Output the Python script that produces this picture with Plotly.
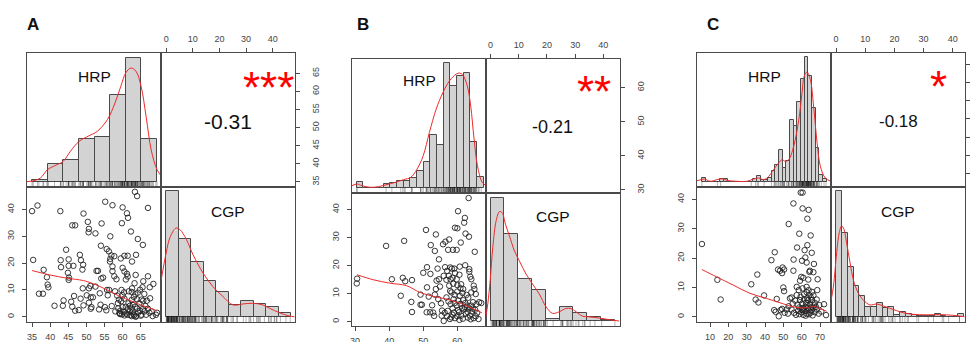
import plotly.graph_objects as go

W, H = 977, 342

# ---------------- data ----------------
A_points = [(35,39.4),(36.5,41.5),(35.3,21.2),(42.8,39.4),(49.2,38.5),(46.1,34.1),(46.9,34.1),(50.4,35.4),(50.7,32.8),(50.6,31.5),
    (52.5,31.1),(55.2,42.9),(57.2,41.6),(60,40.8),(61.2,38.6),(61.5,36.9),(59.8,34.9),(62.3,31.8),(63.4,46.6),(64,45),
    (67,40.6),(64.2,29),(65.6,26.8),(54,26.5),(56.6,30),(54.2,34.8),(44.4,25),(42.9,21.1),(45.1,21.4),(43,18.5),
    (45.1,19),(46.4,19),(48.2,23.1),(48.5,21.1),(49.1,19.4),(48.9,17.6),(44.9,16.4),(45.2,14.6),(45.1,13.75),(38.2,17.5),
    (39.1,14.75),(39.3,12),(39.5,11),(36.9,8.6),(38,8.6),(41.2,4.1),(43.5,4.1),(43.7,6.1),(45.8,5.6),(46.6,7.75),
    (46.9,2.25),(48.4,6.75),(49,10.6),(49.2,4.25),(50.1,8),(50.7,10.6),(51.1,11.5),(51.2,7.25),(50.7,5.25),(51.8,7.25),
    (52.5,11.25),(52.8,17.1),(53.2,17.1),(51.2,3),(53.7,8.75),(53.9,4.5),(53.5,2.75),(55.1,3.6),(55.5,2.4),(54.1,14.25),
    (54.6,14.6),(55.6,25.25),(56.2,24.4),(56.6,21.6),(56.9,22.9),(56.5,20.6),(57.7,22.6),(57.2,18.75),(57.2,17),(57.7,15.1),
    (58.3,14),(55.7,10),(55.9,8),(56.3,10),(57.9,9.5),(59.5,21.75),(60,18.25),(60.5,22.75),(61.4,22.75),(60.5,16.9),
    (61.2,16),(60.9,13.9),(61.4,15),(62.6,20.6),(63.6,15.6),(63.7,23.1),(63.3,12.5),(62.6,10.6),(62.5,9.25),(61.7,9.5),
    (60.4,9.1),(59.7,10),(58.5,7.9),(59,6.4),(60,8),(60.5,6.75),(58.7,5.1),(58.8,3.1),(59.4,2.25),(60,3.6),
    (59.1,1.4),(59.3,1),(59.8,0.9),(60.3,1.75),(60.9,3.75),(61.6,5),(62.5,6.25),(63.1,7.4),(63.5,8.4),(64.2,9),
    (64.8,10.1),(65.5,11),(65.7,13.25),(67,15.1),(67.5,11),(68.5,12.25),(62.8,1.9),(63.2,0.6),(63.7,0.25),(64.3,1.5),
    (64.8,2.25),(65.6,2.9),(66.3,4),(66.7,6),(67.6,6.9),(65.2,0.75),(66.5,0.75),(67.4,1.5),(68.3,0.25),(69.2,0.75),
    (69.5,1.5),(62,4.1),(62.5,3.1),(63.5,3.75),(64.6,5),(65.7,6),(65.2,6.4),(61.3,0.75),(62.1,0.6),(62.5,0.25),
    (63.6,0),(47.9,2.5),(46.1,3.75),(51.4,3.6),(60.5,0.5),(61,1.2),(62,2),(63,1),(64,3),(65,0.4),
    (66,2),(67,3),(68,2),(61.5,2.8),(62.8,4.5),(64,6.5),(66,8.5),(58,2),(57,4),(59.6,5.8)]

B_points = [(30.6,15.3),(30.5,13.6),(39.1,27),(40.8,15.1),(43.4,9.2),(44.4,28.8),(44,15.6),(44.7,14.4),(46.5,7),(46.7,3.4),
    (46.7,14.8),(49.2,6),(49.6,6),(49.2,9.6),(50,17.4),(50.8,32.7),(51.1,19.4),(52.1,17),(52.2,27.3),(53.4,25.2),
    (53.7,31.1),(54.6,22.2),(51.1,12.2),(51.6,8.9),(51,3.3),(52,3.3),(52.6,5.8),(52.9,3.2),(53.2,2),(53.4,9.6),
    (53.7,11.6),(53.9,14.6),(54.2,18.9),(54.6,15.1),(54.9,12.5),(54.4,8),(55.2,6.5),(55.5,3.9),(55.4,2.1),(56,0.2),
    (55.8,27.6),(56.5,28.5),(57.3,25.6),(57.6,29.3),(56.4,19.4),(57,18.1),(57.9,19.3),(58.4,18.9),(59.1,18.9),(56,16.3),
    (56.8,14.9),(57.5,16.3),(58,15.1),(58.7,25.6),(59.8,25.6),(59.3,33.5),(60,33.3),(60.2,39.4),(61,28.2),(62,35.3),
    (62.2,37),(63.3,44.1),(62.4,31.4),(63.4,30.3),(65.1,24.9),(63.5,18.7),(63.8,16),(65,11.6),(57.6,12.8),(58.8,13.5),
    (59.8,15.1),(60.6,16.7),(61.1,13.3),(61.7,11.6),(58.3,10.4),(59.2,9.5),(60,10.7),(60.7,9.2),(61.5,10.2),(62.7,9.5),
    (63.2,8.5),(56.8,8.6),(57.4,7.2),(58,6.2),(58.6,4.7),(59.2,6.6),(59.8,5.7),(60.3,7.5),(60.9,6.3),(61.7,7.6),
    (62.3,6.6),(62.9,5.7),(63.5,4.7),(64,5.7),(64.6,6.9),(65.6,6.2),(66.4,6.9),(67,6.6),(56.3,3.1),(57,1.9),
    (57.8,0.9),(58.6,2.4),(59.3,1.2),(60,1.9),(60.5,3.3),(61.1,2.1),(62,4.3),(62.5,2.8),(63.1,1.4),(63.7,2.1),
    (64.2,3.6),(64.8,1.2),(65.4,1.9),(65.8,3.1),(66.2,0.9),(60,13),(58.6,15.6),(59.3,17.3),(60.7,19.6),(62.3,20.1),
    (63.5,17.8),(64.1,15.1),(64.8,12.8),(64.1,10.4),(65.4,9.8),(57.2,3.8),(58.2,1.5),(59,3.2),(60.6,0.6),(61.6,1),
    (62.2,5.2),(63,3.4),(63.9,0.8),(64.5,4.6),(65.2,4.2),(61.4,4.8),(60.2,4.1),(58.9,8),(57.9,10.9),(60.9,11.9)]

C_points = [(5.6,24.8),(14,12.6),(15.8,5.9),(32.5,11.1),(34.9,5.9),(35.8,14.4),(36.4,4.9),(39.5,7.3),(43.5,19.3),(45.3,22),
    (46.4,6.1),(45,2.3),(45.8,1.7),(47.1,16.1),(48.2,15.7),(49.3,14.9),(49.6,16.8),(50.4,16.1),(50,10),(50.4,8.75),
    (48.5,2.3),(47.5,0.2),(49.3,2.7),(50.7,1.4),(52.9,31.6),(54.5,6.6),(55.5,15.7),(55.6,19.5),(55.5,38.6),(57.5,23.6),
    (58.7,28.3),(59.5,42.3),(60.5,42.3),(60.5,36.9),(60.2,19.1),(60.9,13.3),(59.8,13.6),(59.1,12.3),(61.6,22.7),(62,20.2),
    (62.7,18.5),(63.1,24.4),(63.1,33.4),(63.8,36.4),(63.6,12.7),(64.2,15.3),(64.5,15.7),(64.9,27.7),(65.5,21.8),(66.4,15.2),
    (66.7,18),(68.7,12.8),(68.5,9.1),(57.3,10.2),(58.4,9.1),(60.5,9.7),(62.7,10.2),(63.8,9.1),(65.6,8.5),(66.4,7.3),
    (53.6,6.3),(55.1,4.5),(56.5,5.5),(57.8,4.2),(59.1,5.7),(60.2,4.5),(61.3,5.9),(62.4,4.8),(63.5,5.7),(64.5,4.3),
    (65.6,5.7),(67.1,4.8),(68.2,5.9),(69.6,4),(54.5,2.5),(55.8,1.4),(56.9,0.7),(58,2),(58.7,0.9),(59.8,1.6),
    (60.9,0.7),(61.6,2),(62.7,1.1),(63.8,2.3),(64.9,1.4),(66,0.5),(67.1,1.6),(68.2,2.5),(69.3,1.1),(70.7,1.8),
    (72.2,4.3),(73.3,0.6),(58.7,3.2),(60.5,3),(62,3.4),(63.5,3),(64.9,3.2),(66.4,3),(67.8,3.4),(61.3,7.7),
    (62.7,8.4),(64.2,7.4),(51.8,2.5),(52.9,3.6),(52.5,1.1),(57.3,7.4),(61,2.6),(62.2,0.4),(63.2,4),(64,0.9),
    (65.2,2.2),(66.8,3.9),(59.4,6.8),(60.2,2.4),(63,6.4),(65,6.6)]

# histogram bins: (first edge, bin width, bar heights)
A_hrp_start, A_hrp_width = 35.0, 4.31
A_hrp_heights = [0.9, 7.5, 9.2, 18.3, 19.2, 37.1, 53.0, 18.3]
A_cgp_start, A_cgp_width = 0.0, 4.69
A_cgp_heights = [53.1, 33.1, 23.3, 15.3, 10.5, 5.1, 6.7, 5.5, 4.3, 1.6]

B_hrp_start, B_hrp_width = 30.5, 1.96
B_hrp_heights = [2.7, 0, 0, 0, 1.6, 2.0, 3.0, 3.0, 4.1, 7.1, 11.2, 22.6, 18.3, 53.1, 43.5, 47.7, 49.0, 19.7, 4.5]
B_cgp_start, B_cgp_width = 0.0, 4.9
B_cgp_heights = [52.7, 37.4, 18.0, 13.5, 0.9, 6.1, 3.6, 1.6, 0.4]

C_hrp_start, C_hrp_width = 5.6, 2.0
C_hrp_heights = [1.7, 0, 0, 0, 0, 1.4, 1.4, 0, 0, 0, 0, 0, 0, 0, 1.4, 2.4, 1.0, 0.7, 1.7, 4.5,
                 7.4, 13.8, 6.0, 8.8, 26.6, 23.7, 33.9, 43.9, 53.3, 45.0, 31.5, 14.5, 2.8, 1.4]
C_cgp_start, C_cgp_width = 0.0, 1.99
C_cgp_heights = [53.1, 35.7, 21.0, 13.2, 8.7, 4.4, 4.4, 5.8, 3.7, 4.1, 0.9, 2.1, 1.3, 0.7, 0.4, 0.4,
                 0.4, 1.3, 0.4, 0.1, 0.1, 1.4]

# density curves (x, y)
A_hrp_dens_x = [33.6, 35.0, 37.3, 39.3, 41.9, 43.6, 45.6, 47.95, 50.7, 53.0, 55.8, 57.9, 59.5, 60.9, 62.3, 63.7, 65.1, 66.5, 67.9, 69.5, 70.9]
A_hrp_dens_y = [0.2, 0.4, 1.7, 5.3, 7.4, 8.8, 13.1, 17.3, 19.7, 21.6, 26.6, 33.7, 40.8, 46.6, 48.6, 47.2, 40.8, 27.8, 13.6, 5.3, 2.1]
A_cgp_dens_x = [-1.87, 0, 1.39, 3.63, 5.13, 7.63, 10.1, 13.9, 17.6, 21.3, 25.1, 28.8, 32.6, 36.3, 38.8, 42.6, 46.3, 48.2]
A_cgp_dens_y = [15.8, 27.2, 33.5, 37.6, 37.0, 32.7, 26.3, 18.5, 12.8, 8.7, 5.1, 5.5, 5.8, 5.1, 3.7, 1.8, 0.4, 0.1]

B_hrp_dens_x = [29.1, 30.6, 32.0, 34.5, 36.9, 38.9, 41.8, 44.3, 46.3, 48.2, 50, 51.8, 53.8, 55.8, 57.7, 59.7, 60.7, 61.6, 62.9, 63.9, 64.9, 65.9, 67.3, 68.5]
B_hrp_dens_y = [1.0, 1.7, 1.0, 0.3, 0.6, 1.3, 2.4, 3.6, 4.5, 8.1, 13.8, 23.7, 33.7, 40.8, 45.7, 48.6, 49.0, 48.2, 43.6, 35.1, 20.9, 9.5, 2.4, 1.0]
B_cgp_dens_x = [-1.66, -0.95, -0.12, 0.82, 2.0, 3.18, 4.1, 5.3, 6.7, 8.5, 10.2, 12.6, 14.9, 17.3, 19.7, 22.0, 24.4, 26.7, 28.5, 30.3, 32.6, 35.0, 38.5, 42.0, 45.6]
B_cgp_dens_y = [1.8, 7.5, 17.5, 31.8, 43.1, 47.0, 46.6, 41.6, 36.6, 30.1, 25.9, 20.2, 15.9, 11.6, 6.1, 3.3, 4.0, 5.4, 5.4, 4.0, 2.1, 1.8, 1.3, 0.6, 0.0]

C_hrp_dens_x = [2.9, 5.4, 6.9, 10.2, 13.8, 16.5, 19.3, 24.7, 30.2, 33.8, 36.5, 39.3, 42.0, 44.7, 47.4, 49.3, 51.1, 52.9, 55.6, 58.4, 60.2, 61.4, 62.9, 64.7, 66.5, 68.4, 70.2, 72.9, 76.0]
C_hrp_dens_y = [0.6, 1.0, 1.3, 0.3, 1.0, 1.4, 0.7, 0.3, 0.3, 1.3, 1.7, 1.0, 2.4, 5.3, 8.1, 9.5, 8.8, 9.5, 15.1, 26.4, 38.1, 45.2, 46.9, 43.8, 32.4, 16.8, 6.7, 1.7, 0.3]
C_cgp_dens_x = [-1.7, -0.9, 0.2, 1.1, 1.9, 2.7, 3.6, 4.8, 5.9, 7.6, 9.3, 11.6, 13.9, 16.1, 18.4, 20.7, 23.0, 26.4, 31.0, 35.5, 40.0, 44.0]
C_cgp_dens_y = [7.2, 13.1, 27.3, 35.8, 38.5, 37.1, 31.4, 22.9, 15.8, 10.1, 7.2, 5.1, 5.5, 4.7, 3.7, 2.7, 1.8, 1.1, 0.9, 1.0, 0.7, 0.1]

# loess smooth lines
A_fit_x = [35, 39.9, 44.6, 49.2, 51.5, 53.8, 56.6, 59.4, 62.2, 65, 67.8, 69.4]
A_fit_y = [17.25, 15.6, 14.4, 13.5, 12.5, 11.25, 9.4, 7.5, 6.0, 4.4, 3.1, 2.25]
B_fit_x = [30.6, 35.4, 40.2, 45.1, 49.0, 52.9, 56.8, 60.7, 63.7, 67.2]
B_fit_y = [16.7, 14.9, 13.7, 12.8, 10.4, 9.0, 8.0, 6.6, 5.1, 3.1]
C_fit_x = [5.6, 13.6, 22.7, 31.8, 40.9, 48.2, 55.5, 62.7, 66.4, 70.0, 73.6]
C_fit_y = [16.1, 13.6, 10.8, 8.0, 6.25, 4.8, 3.4, 3.1, 3.6, 2.8, 1.9]

panel_letters = ["A", "B", "C"]
var_names = ["HRP", "CGP"]
cor_values = [-0.31, -0.21, -0.18]
cor_stars = ["***", "**", "*"]

HRP_ticks = [[35, 40, 45, 50, 55, 60, 65], [30, 40, 50, 60], [10, 20, 30, 40, 50, 60, 70]]
CGP_ticks = [[0, 10, 20, 30, 40], [0, 10, 20, 30, 40], [0, 10, 20, 30, 40]]

# ---------------- layout geometry (pixels) ----------------
panels = [
    dict(pts=A_points, x0=27, xm=161, x1=295, y0=53, ym=187, y1=322,
         hr=[33.6, 70.6], cr=[-1.95, 48.4],
         hb=(A_hrp_start, A_hrp_width, A_hrp_heights), cb=(A_cgp_start, A_cgp_width, A_cgp_heights),
         hd=(A_hrp_dens_x, A_hrp_dens_y), cd=(A_cgp_dens_x, A_cgp_dens_y), fit=(A_fit_x, A_fit_y),
         letter=(33, 25), hrp_lab=(94, 77), cgp_lab=(228, 211), cor=(228, 122), cor_size=21,
         star=(268, 82)),
    dict(pts=B_points, x0=352, xm=486, x1=620, y0=59, ym=193, y1=326,
         hr=[29.1, 68.4], cr=[-1.6, 45.9],
         hb=(B_hrp_start, B_hrp_width, B_hrp_heights), cb=(B_cgp_start, B_cgp_width, B_cgp_heights),
         hd=(B_hrp_dens_x, B_hrp_dens_y), cd=(B_cgp_dens_x, B_cgp_dens_y), fit=(B_fit_x, B_fit_y),
         letter=(363, 25), hrp_lab=(419, 81), cgp_lab=(553, 216), cor=(552, 127), cor_size=18,
         star=(594, 86)),
    dict(pts=C_points, x0=697, xm=831, x1=965, y0=53, ym=187, y1=322,
         hr=[2.9, 76.0], cr=[-1.75, 44.2],
         hb=(C_hrp_start, C_hrp_width, C_hrp_heights), cb=(C_cgp_start, C_cgp_width, C_cgp_heights),
         hd=(C_hrp_dens_x, C_hrp_dens_y), cd=(C_cgp_dens_x, C_cgp_dens_y), fit=(C_fit_x, C_fit_y),
         letter=(713, 25), hrp_lab=(764, 76), cgp_lab=(898, 211), cor=(898, 121), cor_size=17,
         star=(938, 81)),
]

DIAG_Y = [-2.13, 55.0]
FONT = "Arial, Liberation Sans, sans-serif"
LINE = "#4a4a4a"

fig = go.Figure()
layout = dict(width=W, height=H, margin=dict(l=0, r=0, t=0, b=0, autoexpand=False), autosize=False,
              paper_bgcolor="white", plot_bgcolor="white", showlegend=False,
              font=dict(family=FONT, color="#222"), annotations=[], bargap=0)


def dx(a, b):
    return [a / W, b / W]


def dy(a, b):
    return [1 - b / H, 1 - a / H]


def ax_names(i):
    return ("xaxis" if i == 1 else f"xaxis{i}", "yaxis" if i == 1 else f"yaxis{i}",
            "x" if i == 1 else f"x{i}", "y" if i == 1 else f"y{i}")


base = dict(showgrid=False, zeroline=False, showline=True, mirror=True, linecolor=LINE,
            linewidth=1, ticks="", showticklabels=False, fixedrange=True, automargin=False)
tickstyle = dict(ticks="outside", ticklen=4, tickwidth=1, tickcolor=LINE, showticklabels=True,
                 tickfont=dict(size=9, color="#444", family=FONT))

idx = 0
for p_i, p in enumerate(panels):
    hrp = [q[0] for q in p["pts"]]
    cgp = [q[1] for q in p["pts"]]
    cells = {
        "TL": (dx(p["x0"], p["xm"]), dy(p["y0"], p["ym"])),
        "TR": (dx(p["xm"], p["x1"]), dy(p["y0"], p["ym"])),
        "BL": (dx(p["x0"], p["xm"]), dy(p["ym"], p["y1"])),
        "BR": (dx(p["xm"], p["x1"]), dy(p["ym"], p["y1"])),
    }
    for cell, (xd, yd) in cells.items():
        idx += 1
        xk, yk, xr, yr = ax_names(idx)
        xa = dict(base, domain=xd, anchor=yr)
        ya = dict(base, domain=yd, anchor=xr)
        if cell in ("TL", "BR"):
            vals = hrp if cell == "TL" else cgp
            xa["range"] = p["hr"] if cell == "TL" else p["cr"]
            ya["range"] = DIAG_Y
            s, w, hs = p["hb"] if cell == "TL" else p["cb"]
            dens = p["hd"] if cell == "TL" else p["cd"]
            fig.add_trace(go.Bar(x=[s + w * (k + 0.5) for k in range(len(hs))], y=hs, width=w,
                                 marker=dict(color="#d3d3d3", line=dict(color=LINE, width=1)),
                                 xaxis=xr, yaxis=yr))
            fig.add_trace(go.Scatter(x=vals, y=[-1.25] * len(vals), mode="markers",
                                     marker=dict(symbol="line-ns", size=5, line=dict(width=0.6, color="rgba(0,0,0,0.5)")),
                                     xaxis=xr, yaxis=yr))
            fig.add_trace(go.Scatter(x=dens[0], y=dens[1], mode="lines",
                                     line=dict(color="#ee2a2a", width=1, shape="spline"), xaxis=xr, yaxis=yr))
        elif cell == "TR":
            xa["range"] = p["cr"]; ya["range"] = p["hr"]
            xa.update(tickstyle, side="top", tickvals=CGP_ticks[p_i], ticklabelstandoff=2)
            ya.update(tickstyle, side="right", tickvals=HRP_ticks[p_i], tickangle=-90, ticklabelstandoff=8)
            fig.add_trace(go.Scatter(x=[None], y=[None], mode="markers", xaxis=xr, yaxis=yr))
        else:  # BL scatter
            xa["range"] = p["hr"]; ya["range"] = p["cr"]
            xa.update(tickstyle, side="bottom", tickvals=HRP_ticks[p_i], ticklabelstandoff=2)
            ya.update(tickstyle, side="left", tickvals=CGP_ticks[p_i], tickangle=-90, ticklabelstandoff=4)
            fig.add_trace(go.Scatter(x=hrp, y=cgp, mode="markers",
                                     marker=dict(symbol="circle-open", size=5.5, color="#222", line=dict(width=0.9)),
                                     xaxis=xr, yaxis=yr))
            fig.add_trace(go.Scatter(x=p["fit"][0], y=p["fit"][1], mode="lines",
                                     line=dict(color="#ee2a2a", width=1, shape="spline"), xaxis=xr, yaxis=yr))
        layout[xk] = xa
        layout[yk] = ya

    def ann(text, pos, size, color="#111", bold=False, dyoff=0):
        layout["annotations"].append(dict(
            text=f"<b>{text}</b>" if bold else text, x=pos[0] / W, y=1 - (pos[1] + dyoff) / H,
            xref="paper", yref="paper", xanchor="center", yanchor="middle", showarrow=False,
            font=dict(size=size, color=color, family=FONT)))

    ann(panel_letters[p_i], p["letter"], 17, bold=True)
    ann(var_names[0], p["hrp_lab"], 15.5)
    ann(var_names[1], p["cgp_lab"], 15.5)
    ann(f"{cor_values[p_i]:.2f}", p["cor"], p["cor_size"])
    ann(cor_stars[p_i], p["star"], 44, color="#ff0000", dyoff=5)

fig.update_layout(**layout)
fig.write_html("out.html", config={"displayModeBar": False},
               post_script="document.body.style.margin='0';document.body.style.overflow='hidden';")
